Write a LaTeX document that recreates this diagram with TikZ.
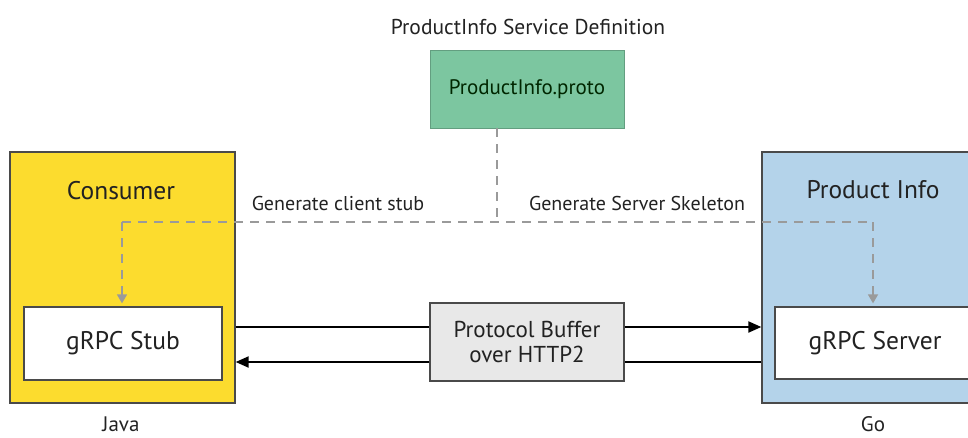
\documentclass[tikz,border=0pt]{standalone}
\usepackage{fontspec}
\setmainfont{PT Sans}
\usetikzlibrary{arrows.meta}
\definecolor{consyellow}{HTML}{FCDC2E}
\definecolor{prodblue}{HTML}{B4D3EA}
\definecolor{protogreen}{HTML}{7CC6A0}
\definecolor{bufgrey}{HTML}{E8E8E8}
\definecolor{edgegrey}{HTML}{4A4A4A}
\definecolor{dashgrey}{HTML}{9A9A9A}
\definecolor{textdark}{HTML}{222222}
\tikzset{
  box/.style={draw=edgegrey, line width=1.3pt, inner sep=0pt, minimum width=#1},
  bigtext/.style={font=\fontsize{25.5}{28}\selectfont, text=textdark},
  smalltext/.style={font=\fontsize{20}{22}\selectfont, text=textdark},
  langtext/.style={font=\fontsize{21}{24}\selectfont, text=textdark, inner sep=0pt},
  gen/.style={draw=dashgrey, line width=1.6pt, dash pattern=on 9pt off 7pt},
  genarrow/.style={gen, -{Triangle[length=9pt,width=10pt]}, shorten >=3pt},
  wire/.style={draw=black, line width=2pt},
  wirearrow/.style={wire, -{Triangle[length=13pt,width=11pt]}}
}
\begin{document}
\begin{tikzpicture}[x=1pt,y=-1pt]
\useasboundingbox (0,0) rectangle (968,437);
\clip (0,0) rectangle (968,437);
% containers
\node[box=225pt, minimum height=251pt, fill=consyellow] (consumer) at (122.5,277.5) {};
\node[box=213pt, minimum height=251pt, fill=prodblue] (prodinfo) at (868.5,277.5) {};
\node[bigtext] (consumerlbl) at (121,191) {Consumer};
\node[bigtext] (prodlbl) at (873,190) {Product Info};
% inner boxes
\node[box=198pt, minimum height=73pt, fill=white, bigtext] (stub) at (123,343.5) {gRPC Stub};
\node[box=200pt, minimum height=72pt, fill=white, bigtext] (server) at (875,343) {gRPC Server};
% proto definition
\node[smalltext, font=\fontsize{21.5}{24}\selectfont] (title) at (528,27) {ProductInfo Service Definition};
\node[box=194pt, minimum height=78pt, draw=protogreen!80!black, line width=0.8pt, fill=protogreen, smalltext, font=\fontsize{21}{24}\selectfont, text=black!85!green] (proto) at (527,89) {ProductInfo.proto};
% transport box
\node[box=194pt, minimum height=78pt, fill=bufgrey, smalltext, align=center, font=\fontsize{23}{25}\selectfont] (buffer) at (527,342) {Protocol Buffer\\over HTTP2};
% languages
\node[langtext] (java) at (121,424) {Java};
\node[langtext] (go) at (873,424) {Go};
% generation labels
\node[smalltext] (genclient) at (338,203) {Generate client stub};
\node[smalltext] (genserver) at (637,203) {Generate Server Skeleton};
% generation paths
\coordinate (j) at (497,222);
\coordinate (jl) at (122,222);
\coordinate (jr) at (873,222);
\draw[gen] (proto.south -| j) -- (j);
\draw[gen] (jl) -- (jr);
\draw[genarrow] (jl) -- (jl |- stub.north);
\draw[genarrow] (jr) -- (jr |- server.north);
% wires
\coordinate (t) at (0,327);
\coordinate (b) at (0,362);
\draw[wire] (consumer.east |- t) -- (buffer.west |- t);
\draw[wirearrow] (buffer.east |- t) -- (prodinfo.west |- t);
\draw[wire] (prodinfo.west |- b) -- (buffer.east |- b);
\draw[wirearrow] (buffer.west |- b) -- (consumer.east |- b);
\end{tikzpicture}
\end{document}
